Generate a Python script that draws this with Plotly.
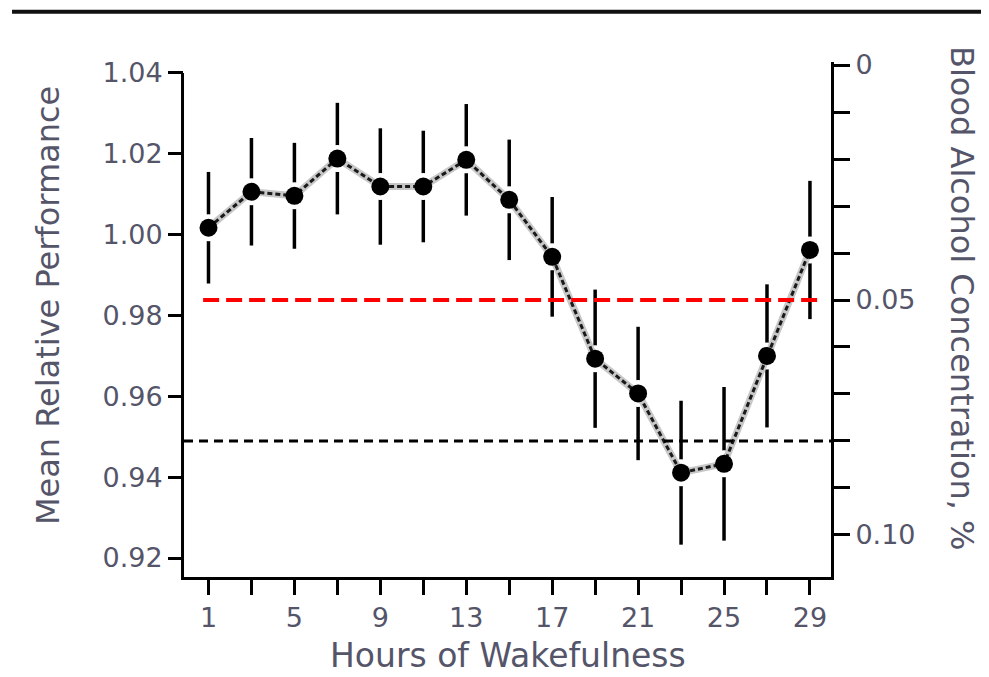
import plotly.graph_objects as go

# ---------------- data ----------------
hours = [1, 3, 5, 7, 9, 11, 13, 15, 17, 19, 21, 23, 25, 27, 29]
performance = [1.0017, 1.0106, 1.0096, 1.0188, 1.0119, 1.0119, 1.0185, 1.0086,
               0.9945, 0.9693, 0.9607, 0.9411, 0.9433, 0.9700, 0.9962]
perf_error = [0.0138, 0.0133, 0.0131, 0.0138, 0.0144, 0.0138, 0.0138, 0.0149,
              0.0148, 0.0171, 0.0165, 0.0178, 0.0190, 0.0177, 0.0171]
x_tick_labels = ["1", "", "5", "", "9", "", "13", "", "17", "", "21", "", "25", "", "29"]
perf_ticks = [0.92, 0.94, 0.96, 0.98, 1.00, 1.02, 1.04]
bac_ticks = [0.00, 0.01, 0.02, 0.03, 0.04, 0.05, 0.06, 0.07, 0.08, 0.09, 0.10]
bac_tick_labels = ["0", "", "", "", "", "0.05", "", "", "", "", "0.10"]
bac_red_level = 0.05
bac_black_level = 0.08

# ---------------- style ----------------
FONT = "DejaVu Sans"
TXT = "#55556a"
x_range = [-0.14, 29.98]
y_range = [0.9153, 1.0427]
y2_range = [0.10894, -0.00064]
red_x = [0.75, 29.4]

fig = go.Figure()

# white halo behind markers that breaks the error bars
fig.add_trace(go.Scatter(
    x=hours, y=performance, mode="markers",
    marker=dict(size=27, color="white"),
    error_y=dict(type="data", array=perf_error, color="black", thickness=3.5, width=0),
    hoverinfo="skip", showlegend=False))

# reference lines on the BAC axis
fig.add_trace(go.Scatter(
    x=[x_range[0], x_range[1]], y=[bac_black_level, bac_black_level], yaxis="y2",
    mode="lines", line=dict(color="black", width=3, dash="9px,6px"),
    hoverinfo="skip", showlegend=False))
fig.add_trace(go.Scatter(
    x=red_x, y=[bac_red_level, bac_red_level], yaxis="y2",
    mode="lines", line=dict(color="#ff0000", width=4, dash="16px,7px"),
    hoverinfo="skip", showlegend=False))

# connecting line (grey halo + dark dashes)
fig.add_trace(go.Scatter(
    x=hours, y=performance, mode="lines",
    line=dict(color="#c8c8c8", width=7),
    hoverinfo="skip", showlegend=False))
fig.add_trace(go.Scatter(
    x=hours, y=performance, mode="lines",
    line=dict(color="#1a1a1a", width=3, dash="5px,3px"),
    hoverinfo="skip", showlegend=False))

# markers
fig.add_trace(go.Scatter(
    x=hours, y=performance, mode="markers",
    marker=dict(size=18, color="black"),
    showlegend=False))

tickfont = dict(family=FONT, size=27, color=TXT)

# the page body adds an 8px margin, so the figure is 8px smaller and shifted
fig.update_layout(
    width=981, height=669,
    margin=dict(l=176, r=158, t=54, b=100),
    paper_bgcolor="white", plot_bgcolor="white",
    showlegend=False,
    xaxis=dict(range=x_range, tickvals=hours, ticktext=x_tick_labels,
               ticks="outside", ticklen=15, tickwidth=3, tickcolor="black",
               showline=True, linewidth=3, linecolor="black",
               showgrid=False, zeroline=False, tickfont=tickfont),
    yaxis=dict(range=y_range, tickvals=perf_ticks, tickformat=".2f",
               ticks="outside", ticklen=15, tickwidth=3, tickcolor="black",
               showline=False, showgrid=False, zeroline=False, tickfont=tickfont),
    yaxis2=dict(range=y2_range, overlaying="y", side="right",
                tickvals=bac_ticks, ticktext=bac_tick_labels,
                ticks="outside", ticklen=16, tickwidth=3, tickcolor="black",
                showline=True, linewidth=3, linecolor="black",
                showgrid=False, zeroline=False, tickfont=tickfont),
    annotations=[
        dict(text="Hours of Wakefulness", xref="paper", yref="paper",
             x=0.5, y=-0.153, xanchor="center", yanchor="middle",
             showarrow=False, font=dict(family=FONT, size=33, color=TXT)),
        dict(text="Mean Relative Performance", xref="paper", yref="paper",
             x=-0.2102, y=0.526, xanchor="center", yanchor="middle", textangle=-90,
             showarrow=False, font=dict(family=FONT, size=32, color=TXT)),
        dict(text="Blood Alcohol Concentration, %", xref="paper", yref="paper",
             x=1.2025, y=0.5417, xanchor="center", yanchor="middle", textangle=90,
             showarrow=False, font=dict(family=FONT, size=32, color=TXT)),
    ],
    shapes=[
        # top rule across the figure
        dict(type="line", xref="paper", yref="paper",
             x0=-0.2658, x1=1.26, y0=1.0977, y1=1.0977,
             line=dict(color="#111111", width=4)),
        # left axis spine (stops at 1.04)
        dict(type="line", xref="paper", yref="paper",
             x0=-0.0023, x1=-0.0023, y0=-0.006,
             y1=(1.04 - y_range[0]) / (y_range[1] - y_range[0]),
             line=dict(color="black", width=3)),
    ],
)

fig.write_html("out.html")
